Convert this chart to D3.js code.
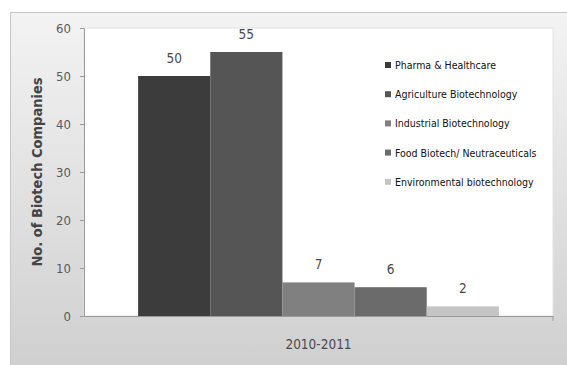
<!DOCTYPE html>
<html>
<head>
<meta charset="utf-8">
<script src="https://cdn.jsdelivr.net/npm/d3@7"></script>
<style>
  body { margin: 0; background: #fff; }
  text { font-family: "DejaVu Sans Condensed", "Liberation Sans", sans-serif; }
</style>
</head>
<body>
<svg id="chart" width="567" height="365"></svg>
<script>
// data
let categories = ["2010-2011"];
let seriesNames = ["Pharma & Healthcare", "Agriculture Biotechnology", "Industrial Biotechnology",
                   "Food Biotech/ Neutraceuticals", "Environmental biotechnology"];
let seriesValues = [50, 55, 7, 6, 2];
let seriesColors = ["#3c3c3c", "#555555", "#808080", "#6b6b6b", "#c4c4c4"];
let yTicks = [0, 10, 20, 30, 40, 50, 60];

let svg = d3.select("#chart");

// chart background with gradient
let defs = svg.append("defs");
let grad = defs.append("linearGradient").attr("id", "bg")
    .attr("x1", 0).attr("y1", 0).attr("x2", 0).attr("y2", 1);
grad.append("stop").attr("offset", "0%").attr("stop-color", "#f3f3f3");
grad.append("stop").attr("offset", "100%").attr("stop-color", "#cfcfcf");

svg.append("rect")
    .attr("x", 10.5).attr("y", 12.5)
    .attr("width", 570).attr("height", 360)
    .attr("fill", "url(#bg)")
    .attr("stroke", "#c6c6c6");

let plot = {left: 84, right: 553, top: 28, bottom: 316};

svg.append("rect")
    .attr("x", plot.left).attr("y", plot.top)
    .attr("width", plot.right - plot.left).attr("height", plot.bottom - plot.top)
    .attr("fill", "#fff")
    .attr("stroke", "#e2e2e2");

let x0 = d3.scaleBand().domain(categories).range([plot.left, plot.right])
    .paddingInner(0).paddingOuter(0.15);
let x1 = d3.scaleBand().domain(seriesNames).range([0, x0.bandwidth()]).padding(0);
let y = d3.scaleLinear().domain([0, 60]).range([plot.bottom, plot.top]);

// y axis
let yAxis = svg.append("g")
    .attr("transform", "translate(" + plot.left + ",0)")
    .call(d3.axisLeft(y).tickValues(yTicks).tickSize(4).tickPadding(9));
yAxis.select(".domain").attr("stroke", "#9a9a9a");
yAxis.selectAll(".tick line").attr("stroke", "#9a9a9a");
yAxis.selectAll(".tick text")
    .attr("font-size", "13px")
    .attr("fill", "#5a5a5a")
    .style("font-family", "'DejaVu Sans Condensed', sans-serif");

// x axis
let xAxis = svg.append("g")
    .attr("transform", "translate(0," + plot.bottom + ")")
    .call(d3.axisBottom(x0).tickSize(0).tickPadding(23));
xAxis.select(".domain").attr("stroke", "#9a9a9a");
xAxis.selectAll(".tick text")
    .attr("font-size", "13.5px")
    .attr("fill", "#4a4a4a")
    .style("font-family", "'DejaVu Sans Condensed', sans-serif");
svg.append("line")
    .attr("x1", plot.right).attr("x2", plot.right)
    .attr("y1", plot.bottom).attr("y2", plot.bottom + 5)
    .attr("stroke", "#9a9a9a");

// y axis title
svg.append("text")
    .attr("transform", "translate(42," + 172 + ") rotate(-90)")
    .attr("text-anchor", "middle")
    .attr("font-size", "14.5px")
    .attr("font-weight", "bold")
    .attr("fill", "#444")
    .text("No. of Biotech Companies");

// bars
let rows = seriesNames.map(function(s, i) {
    return {name: s, value: seriesValues[i], color: seriesColors[i]};
});

svg.append("g").selectAll("rect")
    .data(rows)
    .enter().append("rect")
    .attr("x", function(d) { return x0(categories[0]) + x1(d.name); })
    .attr("y", function(d) { return y(d.value); })
    .attr("width", x1.bandwidth())
    .attr("height", function(d) { return plot.bottom - y(d.value); })
    .attr("fill", function(d) { return d.color; });

// value labels
svg.append("g").selectAll("text")
    .data(rows)
    .enter().append("text")
    .attr("x", function(d) { return x0(categories[0]) + x1(d.name) + x1.bandwidth() / 2; })
    .attr("y", function(d) { return y(d.value) - 13; })
    .attr("text-anchor", "middle")
    .attr("font-size", "13.5px")
    .attr("fill", "#4a4a4a")
    .text(function(d) { return d.value; });

// legend
let legend = svg.append("g").selectAll("g")
    .data(rows)
    .enter().append("g")
    .attr("transform", function(d, i) { return "translate(385," + (65 + i * 29.2) + ")"; });

legend.append("rect")
    .attr("x", 0).attr("y", -3)
    .attr("width", 6).attr("height", 6)
    .attr("fill", function(d) { return d.color; });

legend.append("text")
    .attr("x", 10)
    .attr("y", 4)
    .attr("font-size", "10.5px")
    .attr("fill", "#111")
    .text(function(d) { return d.name; });
</script>
</body>
</html>
